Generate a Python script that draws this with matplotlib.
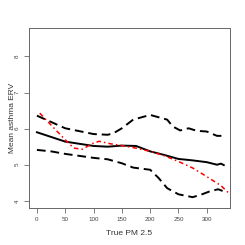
import matplotlib
matplotlib.use("Agg")
import matplotlib.pyplot as plt

plt.rcParams['font.family'] = ['Liberation Sans', 'DejaVu Sans']

# estimated curves
x_upper = [0, 50, 100, 125, 135, 150, 170, 200, 230, 240, 253, 268, 282, 300, 318, 330]
y_upper = [6.36, 6.01, 5.85, 5.83, 5.87, 6.01, 6.25, 6.38, 6.25, 6.06, 5.95, 6.01, 5.94, 5.92, 5.80, 5.80]

x_mid = [0, 50, 100, 125, 150, 175, 200, 225, 250, 275, 300, 318, 325, 330]
y_mid = [5.90, 5.64, 5.52, 5.50, 5.53, 5.52, 5.37, 5.27, 5.16, 5.12, 5.07, 5.00, 5.03, 4.99]

x_lower = [0, 25, 50, 100, 125, 150, 170, 190, 200, 215, 230, 250, 275, 290, 305, 320, 330]
y_lower = [5.41, 5.37, 5.30, 5.19, 5.15, 5.04, 4.92, 4.88, 4.86, 4.63, 4.35, 4.18, 4.10, 4.17, 4.26, 4.32, 4.26]

x_true = [5, 25, 50, 65, 80, 100, 110, 130, 150, 175, 200, 225, 250, 275, 300, 325, 345]
y_true = [6.43, 6.10, 5.69, 5.46, 5.43, 5.60, 5.65, 5.58, 5.53, 5.46, 5.37, 5.25, 5.09, 4.91, 4.67, 4.42, 4.12]

x_ticks = [0, 50, 100, 150, 200, 250, 300]
y_ticks = [4, 5, 6, 7, 8]

fig = plt.figure(figsize=(2.45, 2.45), dpi=100)
ax = fig.add_axes([29 / 245, 37 / 245, 201 / 245, 180 / 245])

ax.plot(x_upper, y_upper, color='black', lw=1.4, ls=(0, (4.5, 2.5)))
ax.plot(x_lower, y_lower, color='black', lw=1.4, ls=(0, (4.5, 2.5)))
ax.plot(x_mid, y_mid, color='black', lw=1.4, ls='-')
ax.plot(x_true, y_true, color='red', lw=1.1, ls=(0, (3, 2, 1, 2)))

ax.set_xlim(-14, 341)
ax.set_ylim(3.8, 8.79)
ax.set_xticks(x_ticks)
ax.set_yticks(y_ticks)
ax.set_yticklabels([str(v) for v in y_ticks], rotation=90, va='center')

grey = '#666666'
for s in ax.spines.values():
    s.set_color(grey)
    s.set_linewidth(0.7)
ax.tick_params(axis='both', colors=grey, labelsize=4.5, length=3.5, width=0.6, pad=3)
ax.tick_params(axis='both', labelcolor='#444444')

ax.set_xlabel('True PM 2.5', fontsize=6, color='#333333', labelpad=6)
ax.set_ylabel('Mean asthma ERV', fontsize=6, color='#333333', labelpad=-1)

fig.savefig('out.png', dpi=100)
